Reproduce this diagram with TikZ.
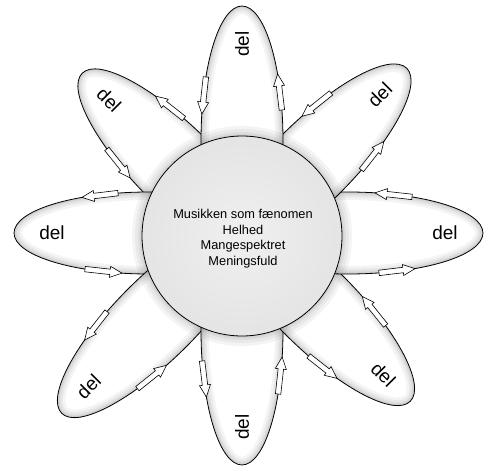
\documentclass[tikz,border=0pt]{standalone}
\usepackage{fontspec}
\setmainfont{Liberation Sans}
\usetikzlibrary{calc}
\pgfdeclareradialshading{disc}{\pgfpointorigin}{color(0bp)=(black!6); color(50bp)=(black!15)}
\newcommand\blockarrow[2]{%
  \coordinate (hh) at ($(#2)!12pt!(#1)$);
  \draw[harrow] ($(#1)!2.7pt!90:(#2)$) -- ($(hh)!2.7pt!90:(#2)$) -- ($(hh)!5.5pt!90:(#2)$) -- (#2)
     -- ($(hh)!5.5pt!-90:(#2)$) -- ($(hh)!2.7pt!-90:(#2)$) -- ($(#1)!2.7pt!-90:(#2)$) -- cycle;
}
\begin{document}
\begin{tikzpicture}[x=1pt,y=1pt,
  petalline/.style={line width=0.8pt},
  glow/.style={black, opacity=0.045},
  harrow/.style={draw=black, fill=white, line width=0.6pt, line join=miter},
  deltext/.style={font=\fontsize{19}{19}\selectfont, inner sep=0pt},
  hubtext/.style={font=\fontsize{12.8}{15.5}\selectfont, align=center, inner sep=0pt},
  hub/.style={circle, draw, line width=0.8pt, shade, shading=disc, minimum size=200pt, inner sep=0pt}]
\useasboundingbox (0,0) rectangle (484,467);
\coordinate (C) at (242,234);
\def\pa{135}\def\pb{41}
% petals
\foreach \th/\L in {135/226, 180/228, 225/255, 270/232, 315/238, 0/241, 45/233, 90/227}{
  \pgfmathsetmacro\pc{\L-\pa}
  \begin{scope}[shift={(C)}, rotate=\th]
    \begin{scope}
      \clip (\pc,0) ellipse [x radius=\pa, y radius=\pb];
      \fill[white] (\pc,0) ellipse [x radius=\pa, y radius=\pb];
      \foreach \w in {16,11,7,4,2}
        \draw[glow, line width=\w pt] (\pc,0) ellipse [x radius=\pa, y radius=\pb];
    \end{scope}
    \draw[petalline] (\pc,0) ellipse [x radius=\pa, y radius=\pb];
  \end{scope}
}
% arrows and labels
\foreach \th/\L/\rot [count=\i] in {135/226/-45, 180/228/0, 225/255/45, 270/232/90, 315/238/-45, 0/241/0, 45/233/45, 90/227/90}{
  \pgfmathsetmacro\pc{\L-\pa}
  \pgfmathsetmacro\tp{\th+90}
  \pgfmathsetmacro\tm{\th-90}
  % inward arrow on the counter-clockwise side
  \pgfmathsetmacro\xa{\L-71}
  \pgfmathsetmacro\ya{\pb*sqrt(1-((\xa-\pc)/\pa)^2)}
  \pgfmathsetmacro\xb{\L-108}
  \pgfmathsetmacro\yb{\pb*sqrt(1-((\xb-\pc)/\pa)^2)}
  \coordinate (it\i) at ($(C)+(\th:\xa)+(\tp:\ya)$);
  \coordinate (ip\i) at ($(C)+(\th:\xb)+(\tp:\yb)$);
  \blockarrow{it\i}{ip\i}
  % outward arrow on the clockwise side
  \pgfmathsetmacro\xc{\L-104}
  \pgfmathsetmacro\yc{\pb*sqrt(1-((\xc-\pc)/\pa)^2)}
  \pgfmathsetmacro\xd{\L-68}
  \pgfmathsetmacro\yd{\pb*sqrt(1-((\xd-\pc)/\pa)^2)}
  \coordinate (ot\i) at ($(C)+(\th:\xc)+(\tm:\yc)$);
  \coordinate (op\i) at ($(C)+(\th:\xd)+(\tm:\yd)$);
  \blockarrow{ot\i}{op\i}
  \pgfmathsetmacro\rd{\L-38}
  \node[deltext, rotate=\rot] (del\i) at ($(C)+(\th:\rd)$) {del};
}
% shadow of the hub
\coordinate (O) at (242,231);
\foreach \w in {20,14,8,4}
  \draw[glow, line width=\w pt] (O) circle (100);
\node[hub] (hubdisc) at (O) {};
\node[hubtext] (hubtxt) at (243,228.5) {Musikken som fænomen\\Helhed\\Mangespektret\\Meningsfuld};
\end{tikzpicture}
\end{document}
